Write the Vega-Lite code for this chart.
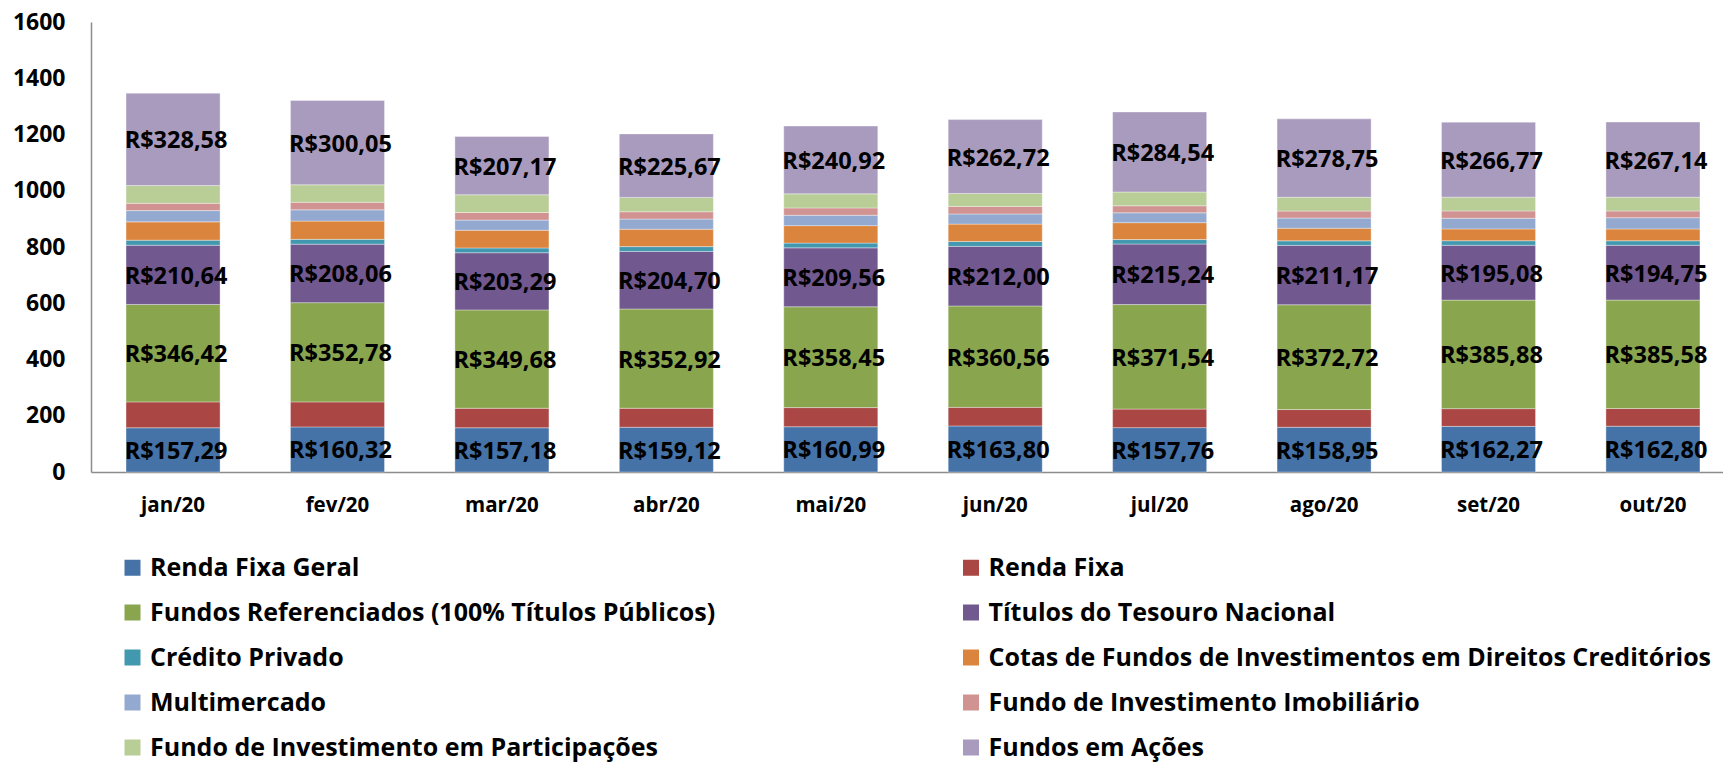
{
  "$schema": "https://vega.github.io/schema/vega-lite/v6.json",
  "autosize": "none",
  "padding": {"left": 91, "top": 22, "right": 0, "bottom": 292},
  "width": 1644,
  "height": 450,
  "background": "white",
  "data": {
    "values": [
      {"mes": "jan/20", "Renda Fixa Geral": 157.29, "Renda Fixa": 92, "Fundos Referenciados (100% Títulos Públicos)": 346.42, "Títulos do Tesouro Nacional": 210.64, "Crédito Privado": 18, "Cotas de Fundos de Investimentos em Direitos Creditórios": 65, "Multimercado": 40, "Fundo de Investimento Imobiliário": 26, "Fundo de Investimento  em Participações": 63, "Fundos em Ações": 328.58},
      {"mes": "fev/20", "Renda Fixa Geral": 160.32, "Renda Fixa": 89, "Fundos Referenciados (100% Títulos Públicos)": 352.78, "Títulos do Tesouro Nacional": 208.06, "Crédito Privado": 17, "Cotas de Fundos de Investimentos em Direitos Creditórios": 65, "Multimercado": 40, "Fundo de Investimento Imobiliário": 27, "Fundo de Investimento  em Participações": 62, "Fundos em Ações": 300.05},
      {"mes": "mar/20", "Renda Fixa Geral": 157.18, "Renda Fixa": 69.5, "Fundos Referenciados (100% Títulos Públicos)": 349.68, "Títulos do Tesouro Nacional": 203.29, "Crédito Privado": 17, "Cotas de Fundos de Investimentos em Direitos Creditórios": 63, "Multimercado": 36, "Fundo de Investimento Imobiliário": 27, "Fundo de Investimento  em Participações": 63, "Fundos em Ações": 207.17},
      {"mes": "abr/20", "Renda Fixa Geral": 159.12, "Renda Fixa": 67.6, "Fundos Referenciados (100% Títulos Públicos)": 352.92, "Títulos do Tesouro Nacional": 204.70, "Crédito Privado": 17, "Cotas de Fundos de Investimentos em Direitos Creditórios": 62, "Multimercado": 36, "Fundo de Investimento Imobiliário": 26, "Fundo de Investimento  em Participações": 51, "Fundos em Ações": 225.67},
      {"mes": "mai/20", "Renda Fixa Geral": 160.99, "Renda Fixa": 68, "Fundos Referenciados (100% Títulos Públicos)": 358.45, "Títulos do Tesouro Nacional": 209.56, "Crédito Privado": 17, "Cotas de Fundos de Investimentos em Direitos Creditórios": 62, "Multimercado": 37, "Fundo de Investimento Imobiliário": 26, "Fundo de Investimento  em Participações": 50, "Fundos em Ações": 240.92},
      {"mes": "jun/20", "Renda Fixa Geral": 163.80, "Renda Fixa": 66, "Fundos Referenciados (100% Títulos Públicos)": 360.56, "Títulos do Tesouro Nacional": 212.00, "Crédito Privado": 17, "Cotas de Fundos de Investimentos em Direitos Creditórios": 62, "Multimercado": 36, "Fundo de Investimento Imobiliário": 27, "Fundo de Investimento  em Participações": 46, "Fundos em Ações": 262.72},
      {"mes": "jul/20", "Renda Fixa Geral": 157.76, "Renda Fixa": 66, "Fundos Referenciados (100% Títulos Públicos)": 371.54, "Títulos do Tesouro Nacional": 215.24, "Crédito Privado": 16, "Cotas de Fundos de Investimentos em Direitos Creditórios": 60, "Multimercado": 35, "Fundo de Investimento Imobiliário": 25, "Fundo de Investimento  em Participações": 49, "Fundos em Ações": 284.54},
      {"mes": "ago/20", "Renda Fixa Geral": 158.95, "Renda Fixa": 63, "Fundos Referenciados (100% Títulos Públicos)": 372.72, "Títulos do Tesouro Nacional": 211.17, "Crédito Privado": 16, "Cotas de Fundos de Investimentos em Direitos Creditórios": 45, "Multimercado": 36, "Fundo de Investimento Imobiliário": 25, "Fundo de Investimento  em Participações": 49, "Fundos em Ações": 278.75},
      {"mes": "set/20", "Renda Fixa Geral": 162.27, "Renda Fixa": 63, "Fundos Referenciados (100% Títulos Públicos)": 385.88, "Títulos do Tesouro Nacional": 195.08, "Crédito Privado": 16, "Cotas de Fundos de Investimentos em Direitos Creditórios": 42, "Multimercado": 38, "Fundo de Investimento Imobiliário": 26, "Fundo de Investimento  em Participações": 49, "Fundos em Ações": 266.77},
      {"mes": "out/20", "Renda Fixa Geral": 162.80, "Renda Fixa": 63, "Fundos Referenciados (100% Títulos Públicos)": 385.58, "Títulos do Tesouro Nacional": 194.75, "Crédito Privado": 16, "Cotas de Fundos de Investimentos em Direitos Creditórios": 42, "Multimercado": 40, "Fundo de Investimento Imobiliário": 24, "Fundo de Investimento  em Participações": 49, "Fundos em Ações": 267.14}
    ]
  },
  "transform": [
    {"fold": ["Renda Fixa Geral", "Renda Fixa", "Fundos Referenciados (100% Títulos Públicos)", "Títulos do Tesouro Nacional", "Crédito Privado", "Cotas de Fundos de Investimentos em Direitos Creditórios", "Multimercado", "Fundo de Investimento Imobiliário", "Fundo de Investimento  em Participações", "Fundos em Ações"], "as": ["serie", "valor"]},
    {"stack": "valor", "groupby": ["mes"], "as": ["v0", "v1"]}
  ],
  "encoding": {
    "x": {
      "field": "mes", "type": "nominal", "sort": null, "title": null,
      "scale": {"paddingInner": 0.428, "paddingOuter": 0.213},
      "axis": {"labelAngle": 0, "ticks": false, "domainColor": "#8c8c8c", "domainWidth": 1.5, "labelFont": "Open Sans", "labelFontWeight": "bold", "labelFontSize": 20.5, "labelColor": "#000000", "labelPadding": 23}
    }
  },
  "layer": [
    {
      "mark": {"type": "bar", "stroke": "#ffffff", "strokeWidth": 0.6, "strokeOpacity": 0.6},
      "encoding": {
        "y": {
          "field": "v1", "type": "quantitative", "title": null,
          "scale": {"domain": [0, 1600], "nice": false},
          "axis": {"values": [0, 200, 400, 600, 800, 1000, 1200, 1400, 1600], "format": "d", "grid": false, "ticks": false, "domainColor": "#8c8c8c", "domainWidth": 1.5, "labelFont": "Open Sans", "labelFontWeight": "bold", "labelFontSize": 23, "labelColor": "#000000", "labelPadding": 26}
        },
        "y2": {"field": "v0"},
        "color": {
          "field": "serie", "type": "nominal", "title": null,
          "scale": {
            "domain": ["Renda Fixa Geral", "Renda Fixa", "Fundos Referenciados (100% Títulos Públicos)", "Títulos do Tesouro Nacional", "Crédito Privado", "Cotas de Fundos de Investimentos em Direitos Creditórios", "Multimercado", "Fundo de Investimento Imobiliário", "Fundo de Investimento  em Participações", "Fundos em Ações"],
            "range": ["#4572A7", "#AA4643", "#89A54E", "#71588F", "#4198AF", "#DB843D", "#93A9CF", "#D19392", "#B9CD96", "#A99BBD"]
          },
          "legend": {
            "orient": "none", "legendX": 29, "legendY": 533, "direction": "horizontal", "columns": 2, "columnPadding": 242.5, "rowPadding": 19,
            "symbolType": "square", "symbolSize": 256, "symbolStrokeWidth": 0, "symbolOpacity": 1,
            "labelFont": "Open Sans", "labelFontWeight": "bold", "labelFontSize": 25, "labelColor": "#000000", "labelOffset": 5, "labelLimit": 900
          }
        }
      }
    },
    {
      "transform": [
        {"filter": {"field": "serie", "oneOf": ["Renda Fixa Geral", "Fundos Referenciados (100% Títulos Públicos)", "Títulos do Tesouro Nacional", "Fundos em Ações"]}},
        {"fold": ["v0", "v1"], "as": ["extremo", "pos"]},
        {"aggregate": [{"op": "mean", "field": "pos", "as": "meio"}, {"op": "max", "field": "valor", "as": "rotulo"}], "groupby": ["mes", "serie"]}
      ],
      "mark": {"type": "text", "font": "Open Sans", "fontWeight": "bold", "fontSize": 23.5, "color": "#000000", "align": "center", "baseline": "middle", "dx": 3, "dy": 2},
      "encoding": {
        "y": {"field": "meio", "type": "quantitative"},
        "text": {"field": "rotulo", "type": "quantitative", "format": "$.2f"}
      }
    }
  ],
  "config": {
    "view": {"stroke": null},
    "locale": {"number": {"decimal": ",", "thousands": ".", "grouping": [3], "currency": ["R$", ""]}}
  }
}
